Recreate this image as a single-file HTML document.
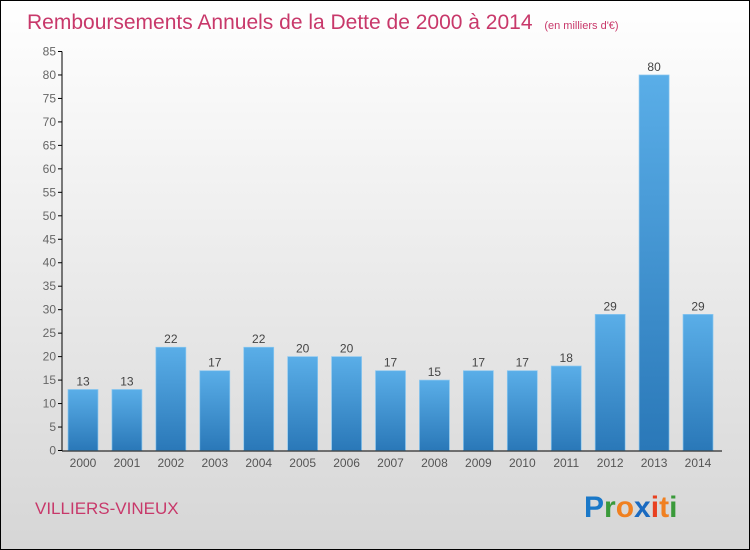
<!DOCTYPE html>
<html><head><meta charset="utf-8"><style>
body{margin:0}
#c{position:relative;width:748px;height:548px;border:1px solid #000;background:linear-gradient(#fff,#d6d6d6);font-family:"Liberation Sans",sans-serif;overflow:hidden}
</style></head><body>
<div id="c">
<svg width="748" height="548" id="svg">
<defs><linearGradient id="g" x1="0" x2="0" y1="0" y2="1"><stop offset="0" stop-color="#5aaee8"/><stop offset="1" stop-color="#2a78b8"/></linearGradient></defs>
<text x="26" y="28" font-size="21" fill="#c8386a">Remboursements Annuels de la Dette de 2000 à 2014 <tspan font-size="11" dx="6">(en milliers d'€)</tspan></text>
<text x="34" y="513" font-size="17" fill="#c8386a">VILLIERS-VINEUX</text>
<g id="plot"></g>
<text x="583" y="516" font-size="30" font-weight="bold"><tspan fill="#1a78c8">P</tspan><tspan fill="#3a9a3a">r</tspan><tspan fill="#f08020">o</tspan><tspan fill="#1a6ac0">x</tspan><tspan fill="#e84020">i</tspan><tspan fill="#f08020">t</tspan><tspan fill="#3a9a3a">i</tspan></text>
</svg></div>
<script>
const years=["2000","2001","2002","2003","2004","2005","2006","2007","2008","2009","2010","2011","2012","2013","2014"];
const values=[13,13,22,17,22,20,20,17,15,17,17,18,29,80,29];
const ticks=[0,5,10,15,20,25,30,35,40,45,50,55,60,65,70,75,80,85];
const ns="http://www.w3.org/2000/svg",p=document.getElementById('plot');
const y=v=>449.5-v*(449.5-50.5)/85, x=i=>82+i*43.93;
function mk(t,a,txt){const e=document.createElementNS(ns,t);for(const k in a)e.setAttribute(k,a[k]);if(txt!=null)e.textContent=txt;p.appendChild(e);return e;}
ticks.forEach(t=>{
 const l=mk('line',{x1:57,x2:61,y1:y(t),y2:y(t),stroke:'#000'});
 
 
 const tx=mk('text',{x:55,y:y(t)+4,'font-size':12,fill:'#666','text-anchor':'end'},t);
 
 
});
values.forEach((v,i)=>{
 const r=mk('rect',{x:x(i)-15,y:y(v),width:30,height:y(0)-y(v),fill:'url(#g)',stroke:'#8cc8f0','stroke-width':0.7});
 
 
 const t=mk('text',{x:x(i),y:y(v)-4,'font-size':12,fill:'#444','text-anchor':'middle'},v);
 
 
 const xl=mk('text',{x:x(i),y:466,'font-size':12,fill:'#555','text-anchor':'middle'},years[i]);
 
 
});
const ya=mk('line',{x1:61,x2:61,y1:y(85),y2:y(0),stroke:'#000'});


const xa=mk('line',{x1:61,x2:721,y1:y(0)+0.5,y2:y(0)+0.5,stroke:'#000'});


</script>
</body></html>
